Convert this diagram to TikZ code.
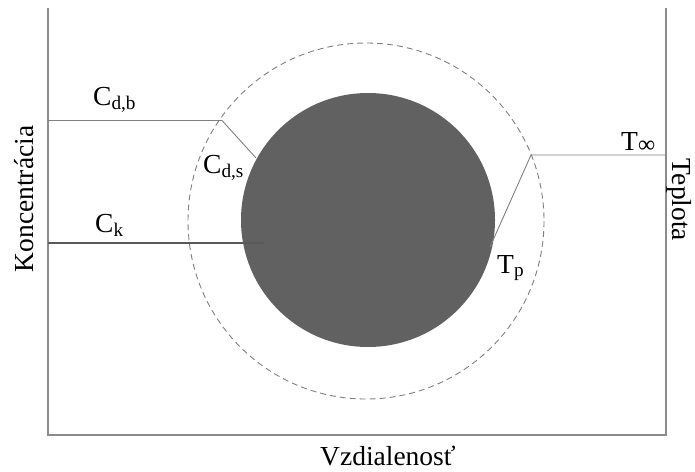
\documentclass[tikz,border=0pt]{standalone}
\usepackage{fontspec}
\setmainfont{Liberation Serif}
\begin{document}
\begin{tikzpicture}[x=1pt,y=-1pt,
  lbl/.style={inner sep=0pt,font=\fontsize{27.5}{32}\selectfont},
  axisline/.style={draw=black!45,line width=1.2pt},
  thinline/.style={draw=black!50,line width=0.9pt},
  darkline/.style={draw=black!65,line width=1.1pt}]
\useasboundingbox (0,0) rectangle (695,471);
% axes
\coordinate (tl) at (48,8);
\coordinate (bl) at (48,435);
\coordinate (br) at (666,435);
\coordinate (tr) at (666,8);
\draw[axisline] (tl) -- (bl) -- (br) -- (tr);
% circles
\coordinate (cc) at (366,221);
\draw[draw=black!50,line width=0.9pt,dash pattern=on 6pt off 4pt] (cc) circle[radius=178];
\fill[fill=black!62] (368,220) coordinate (pc) circle[radius=127];
% concentration lines
\coordinate (b0) at (48,120.5);
\coordinate (b1) at (222,120.5);
\coordinate (b2) at (256,158);
\draw[thinline] (b0) -- (b1) -- (b2);
\coordinate (k0) at (48,243);
\coordinate (k1) at (264,243);
\draw[darkline] (k0) -- (k1);
% temperature lines
\coordinate (t0) at (666,155);
\coordinate (t1) at (531,155);
\coordinate (t2) at (490,247);
\draw[thinline] (t0) -- (t1) -- (t2);
% labels
\node[lbl,anchor=base west] (cdb) at (93,105) {C\textsubscript{d,b}};
\node[lbl,anchor=base west] (cds) at (203,173) {C\textsubscript{d,s}};
\node[lbl,anchor=base west] (ck) at (95,232) {C\textsubscript{k}};
\node[lbl,anchor=base west] (tinf) at (621,150) {T\raisebox{-2pt}{\fontsize{24}{24}\selectfont ∞}};
\node[lbl,anchor=base west] (tp) at (497,273) {T\textsubscript{p}};
\node[lbl,anchor=base west] (xl) at (320,465) {Vzdialenosť};
\node[lbl,anchor=base,rotate=90] (yl) at (33,199) {Koncentrácia};
\node[lbl,anchor=base,rotate=-90] (yr) at (672,200) {Teplota};
\end{tikzpicture}
\end{document}
